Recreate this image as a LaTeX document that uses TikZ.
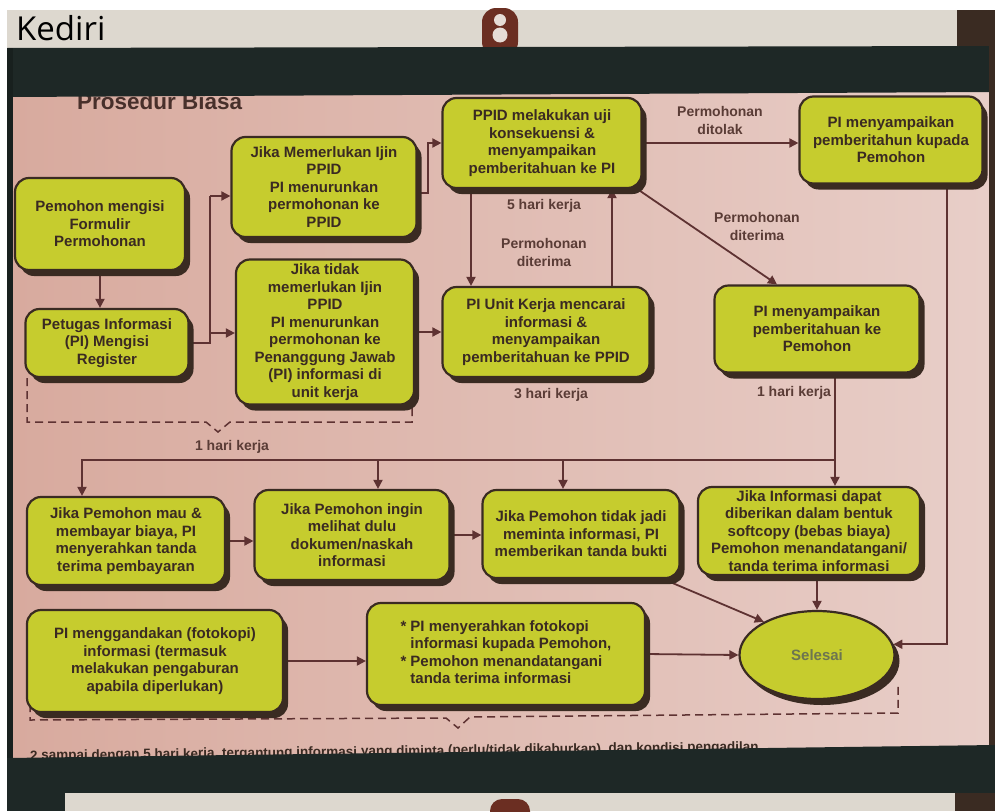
\documentclass[tikz,border=0pt]{standalone}
\usepackage{fontspec}
\setmainfont{Liberation Sans}
\newfontfamily\kfont{Open Sans}
\usetikzlibrary{arrows.meta,shapes.geometric,shadows,calc}
\definecolor{boardL}{HTML}{D8AA9E}
\definecolor{boardR}{HTML}{E8CEC8}
\definecolor{boxc}{HTML}{C6CC2E}
\definecolor{bordc}{HTML}{3A2B22}
\definecolor{txtc}{HTML}{3A2A22}
\definecolor{linec}{HTML}{5E3232}
\definecolor{labc}{HTML}{5A3C36}
\definecolor{framec}{HTML}{1E2826}
\definecolor{stripc}{HTML}{DDD8CF}
\definecolor{hangc}{HTML}{6B2E22}
\definecolor{holec}{HTML}{E6DCD6}
\definecolor{selc}{HTML}{6D7550}
\pgfdeclarelayer{back}\pgfdeclarelayer{bg}\pgfdeclarelayer{front}
\pgfsetlayers{back,bg,main,front}
\begin{document}
\begin{tikzpicture}[x=1pt,y=-1pt,
 box/.style={draw=bordc, line width=2.2pt, fill=boxc, rounded corners=14pt, align=center, text=txtc,
   font=\bfseries\fontsize{15}{17.5}\selectfont, inner sep=2pt,
   drop shadow={shadow xshift=5pt, shadow yshift=-6pt, fill=bordc, opacity=1}},
 conn/.style={draw=linec, line width=1.8pt, -{Triangle[length=9pt,width=9pt]}},
 plain/.style={draw=linec, line width=1.8pt},
 lab/.style={text=labc, font=\bfseries\fontsize{14}{18}\selectfont, align=center, inner sep=0pt},
 brk/.style={draw=linec, line width=1.5pt, dash pattern=on 8pt off 5pt}]
\useasboundingbox (0,0) rectangle (995,811);

% ---------- background / board ----------
\begin{pgfonlayer}{back}
\fill[white] (0,0) rectangle (995,811);
\shade[left color=boardL, right color=boardR] (13,88) rectangle (989,762);
\node[anchor=base west, text=labc!80!black, font=\bfseries\fontsize{22.5}{24}\selectfont, inner sep=0pt] (title) at (77,109) {Prosedur Biasa};
\node[anchor=base west, rotate=0.7, text=txtc, font=\bfseries\fontsize{13.5}{16}\selectfont, inner sep=0pt] (foot) at (30,760)
 {2 sampai dengan 5 hari kerja, tergantung informasi yang diminta (perlu/tidak dikaburkan), dan kondisi pengadilan};
\end{pgfonlayer}

% ---------- boxes ----------
\node[box, minimum width=170pt, minimum height=92pt] (b1) at (100,224) {Pemohon mengisi\\Formulir\\Permohonan};
\node[box, minimum width=163pt, minimum height=68pt] (b2) at (107,343) {Petugas Informasi\\(PI) Mengisi\\Register};
\node[box, minimum width=185pt, minimum height=100pt] (b3) at (324,187) {Jika Memerlukan Ijin\\PPID\\PI menurunkan\\permohonan ke\\PPID};
\node[box, minimum width=178pt, minimum height=145pt] (b4) at (325,332) {Jika tidak\\memerlukan Ijin\\PPID\\PI menurunkan\\permohonan ke\\Penanggung Jawab\\(PI) informasi di\\unit kerja};
\node[box, minimum width=199pt, minimum height=90pt] (b5) at (542,143) {PPID melakukan uji\\konsekuensi \&\\menyampaikan\\pemberitahuan ke PI};
\node[box, minimum width=183pt, minimum height=87pt] (b6) at (891,140) {PI menyampaikan\\pemberitahun kupada\\Pemohon};
\node[box, minimum width=207pt, minimum height=90pt] (b7) at (546,332) {PI Unit Kerja mencarai\\informasi \&\\menyampaikan\\pemberitahuan ke PPID};
\node[box, minimum width=205pt, minimum height=87pt] (b8) at (817,329) {PI menyampaikan\\pemberitahuan ke\\Pemohon};
\node[box, minimum width=198pt, minimum height=88pt] (b9) at (126,541) {Jika Pemohon mau \&\\membayar biaya, PI\\menyerahkan tanda\\terima pembayaran};
\node[box, minimum width=195pt, minimum height=90pt] (b10) at (352,535) {Jika Pemohon ingin\\melihat dulu\\dokumen/naskah\\informasi};
\node[box, minimum width=197pt, minimum height=88pt] (b11) at (581,534) {Jika Pemohon tidak jadi\\meminta informasi, PI\\memberikan tanda bukti};
\node[box, minimum width=222pt, minimum height=88pt] (b12) at (809,531) {Jika Informasi dapat\\diberikan dalam bentuk\\softcopy (bebas biaya)\\Pemohon menandatangani/\\tanda terima informasi};
\node[box, minimum width=256pt, minimum height=102pt] (b13) at (155,661) {PI menggandakan (fotokopi)\\informasi (termasuk\\melakukan pengaburan\\apabila diperlukan)};
\node[box, minimum width=278pt, minimum height=102pt] (b14) at (506,654)
 {\begin{tabular}{@{}l@{\hspace{4pt}}l@{}}{*}&PI menyerahkan fotokopi\\ {} &informasi kupada Pemohon,\\ {*}&Pemohon menandatangani\\ {} &tanda terima informasi\end{tabular}};
\node[box, ellipse, minimum width=155pt, minimum height=88pt, text=selc] (sel) at (817,655) {Selesai};

% ---------- labels ----------
\node[lab] (l1) at (720,120) {Permohonan\\ditolak};
\node[lab] (l2) at (544,206) {5 hari kerja};
\node[lab] (l3) at (544,252) {Permohonan\\diterima};
\node[lab] (l4) at (757,226) {Permohonan\\diterima};
\node[lab] (l5) at (551,395) {3 hari kerja};
\node[lab] (l6) at (794,393) {1 hari kerja};
\node[lab] (l7) at (232,447) {1 hari kerja};

% ---------- connectors ----------
\begin{pgfonlayer}{bg}
\draw[conn] (b1.south -| 100,0) -- (b2.north -| 100,0);
\coordinate (j1) at (210,196);
\coordinate (j2) at (210,333);
\draw[plain] (b2.east) -| (j1);
\draw[conn] (j1) -- (j1 -| b3.west);
\draw[conn] (j2) -- (j2 -| b4.west);
\coordinate (j3) at (428,193);
\draw[conn] (j3 -| b3.east) -- (j3) |- (b5.west);
\draw[conn] (b4.east) -- (b4.east -| b7.west);
\draw[conn] (b5.east) -- (b5.east -| b6.west);
\coordinate (x1) at (471,0);
\coordinate (x2) at (612,0);
\draw[conn] (x1 |- b5.south) -- (x1 |- b7.north);
\draw[conn] (x2 |- b7.north) -- (x2 |- b5.south);
\coordinate (d8) at (777,0);
\draw[conn] ($(b5.south east)+(-14,-6)$) -- (d8 |- b8.north);
% distribution line
\coordinate (x3) at (835,0);
\coordinate (h1) at (835,460);
\coordinate (h0) at (82,460);
\coordinate (t10) at (378,460);
\coordinate (t11) at (563,460);
\draw[conn] (x3 |- b8.south) -- (x3 |- b12.north);
\draw[conn] (h1) -- (h0) -- (h0 |- b9.north);
\draw[conn] (t10) -- (t10 |- b10.north);
\draw[conn] (t11) -- (t11 |- b11.north);
\draw[conn] (b9.east) -- (b9.east -| b10.west);
\draw[conn] (b10.east) -- (b10.east -| b11.west);
\draw[conn] ($(b11.south east)+(-22,-2)$) -- (sel.148);
\draw[conn] (sel.north |- b12.south) -- (sel.north);
\coordinate (x6) at (947,0);
\draw[conn] (x6 |- b6.south) |- (sel.8);
\draw[conn] (b13.east) -- (b13.east -| b14.west);
\draw[conn] (b14.east) -- (sel.west);
% dashed brackets
\draw[brk] (27,378) -- (27,422) -- (206,422) -- (218,432) -- (230,422) -- (412,422) -- (412,402);
\draw[brk] (30,704) -- (30,720) -- (446,718) -- (458,728) -- (470,717) -- (898,713) -- (898,682);
\end{pgfonlayer}

% ---------- frame (foreground) ----------
\begin{pgfonlayer}{front}
\fill[stripc] (7,10) rectangle (995,48);
\fill[bordc] (957,10) rectangle (995,48);
\fill[hangc, rounded corners=14pt] (482,8) rectangle (518,56);
\fill[holec] (500,20) circle[radius=6];
\fill[holec] (500,35) circle[radius=7.5];
\node[anchor=base west, font=\kfont\fontsize{33}{36}\selectfont, text=black, inner sep=0pt] (kediri) at (16,40) {Kediri};
\fill[framec] (7,48) -- (995,46) -- (995,92) -- (7,97) -- cycle;
\fill[framec!80!black] (7,48) rectangle (13,793);
\fill[bordc] (989,46) rectangle (995,793);
\fill[framec] (7,758) -- (995,745) -- (995,793) -- (7,793) -- cycle;
\fill[stripc] (65,793) rectangle (955,811);
\fill[framec] (7,793) rectangle (65,811);
\fill[bordc] (955,793) rectangle (995,811);
\fill[hangc, rounded corners=12pt] (490,799) rectangle (530,825);
\end{pgfonlayer}
\end{tikzpicture}
\end{document}
